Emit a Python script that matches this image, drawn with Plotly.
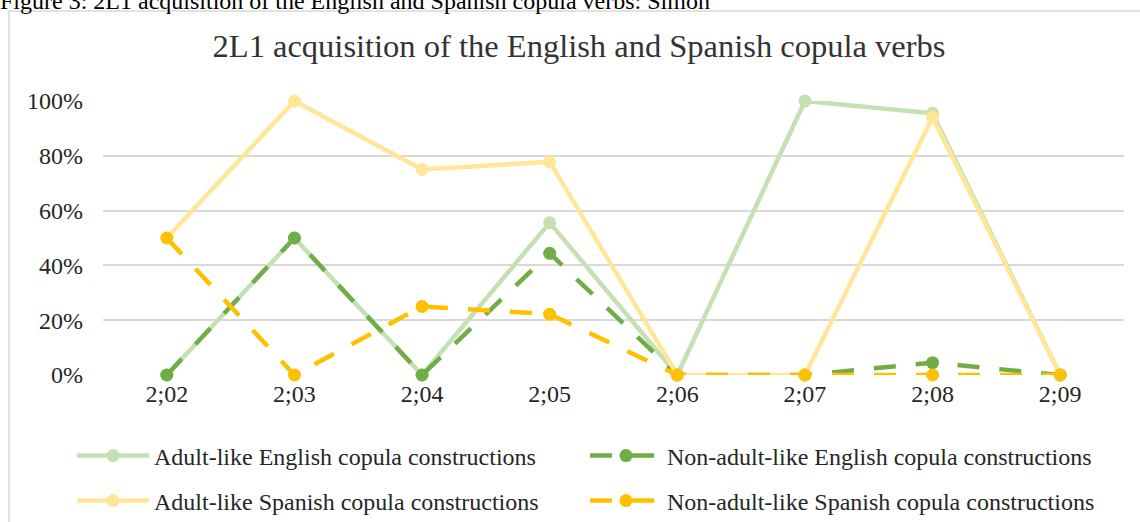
import plotly.graph_objects as go

categories = ["2;02", "2;03", "2;04", "2;05", "2;06", "2;07", "2;08", "2;09"]
adult_english = [0.0, 0.50, 0.0, 0.556, 0.0, 1.0, 0.955, 0.0]
nonadult_english = [0.0, 0.50, 0.0, 0.444, 0.0, 0.0, 0.045, 0.0]
adult_spanish = [0.50, 1.0, 0.75, 0.778, 0.0, 0.0, 0.941, 0.0]
nonadult_spanish = [0.50, 0.0, 0.25, 0.222, 0.0, 0.0, 0.0, 0.0]

names = [
    "Adult-like English copula constructions",
    "Non-adult-like English copula constructions",
    "Adult-like Spanish copula constructions",
    "Non-adult-like Spanish copula constructions",
]
series = [adult_english, nonadult_english, adult_spanish, nonadult_spanish]
colors = ["#C5E0B4", "#70AD47", "#FFE699", "#FFC000"]
dashes = ["solid", "22px,20px", "solid", "22px,20px"]
legends = ["legend", "legend", "legend2", "legend2"]

FONT = "Liberation Serif"
TXT = "#262626"

fig = go.Figure()
for nm, vals, col, dsh, lg in zip(names, series, colors, dashes, legends):
    fig.add_trace(go.Scatter(
        x=categories, y=vals, name=nm, mode="lines+markers",
        line=dict(color=col, width=4.5, dash=dsh),
        marker=dict(color=col, size=13, symbol="circle"),
        cliponaxis=False, legend=lg,
    ))

W, H = 1140, 522
L, R, T, B = 103, 16, 101, 147
pw, ph = W - L - R, H - T - B

def px_x(p):
    return (p - L) / pw

def px_y(p):
    return (H - B - p) / ph

legend_common = dict(
    orientation="h", xanchor="left", yanchor="middle",
    font=dict(family=FONT, size=24, color=TXT),
    entrywidth=426, entrywidthmode="pixels", itemwidth=72,
    bgcolor="rgba(0,0,0,0)",
)

fig.update_layout(
    width=W, height=H,
    margin=dict(l=L, r=R, t=T, b=B, autoexpand=False),
    paper_bgcolor="white", plot_bgcolor="white",
    title=dict(
        text="2L1 acquisition of the English and Spanish copula verbs",
        font=dict(family=FONT, size=32.5, color="#333333"),
        x=579 / W, xanchor="center", xref="container",
        y=1 - 46 / H, yanchor="middle", yref="container",
    ),
    xaxis=dict(
        type="category", showgrid=False, showline=False, ticks="",
        range=[-0.5, len(categories) - 0.5],
        tickfont=dict(family=FONT, size=24, color=TXT),
        zeroline=False, ticklabelstandoff=2,
    ),
    yaxis=dict(
        range=[0, 1], tickvals=[0, 0.2, 0.4, 0.6, 0.8, 1.0],
        tickformat=".0%", showgrid=True, gridcolor="#D9D9D9", gridwidth=1.5,
        zeroline=False, showline=False, ticks="",
        tickfont=dict(family=FONT, size=24, color=TXT),
        ticklabelstandoff=19,
    ),
    legend=dict(x=px_x(72), y=px_y(456), **legend_common),
    legend2=dict(x=px_x(72), y=px_y(501), **legend_common),
    showlegend=True,
    shapes=[dict(
        type="rect", xref="paper", yref="paper",
        x0=px_x(9), x1=px_x(1142), y0=px_y(540), y1=px_y(11),
        line=dict(color="#D9D9D9", width=1.5), layer="below",
    )],
    annotations=[dict(
        text="Figure 3: 2L1 acquisition of the English and Spanish copula verbs: Simon",
        xref="paper", yref="paper", x=px_x(-2), y=px_y(1),
        xanchor="left", yanchor="middle", showarrow=False,
        font=dict(family=FONT, size=24, color="#000000"),
    )],
)

fig.write_html(
    "out.html",
    config={"displayModeBar": False},
    post_script="document.body.style.margin='0';document.body.style.padding='0';",
)
